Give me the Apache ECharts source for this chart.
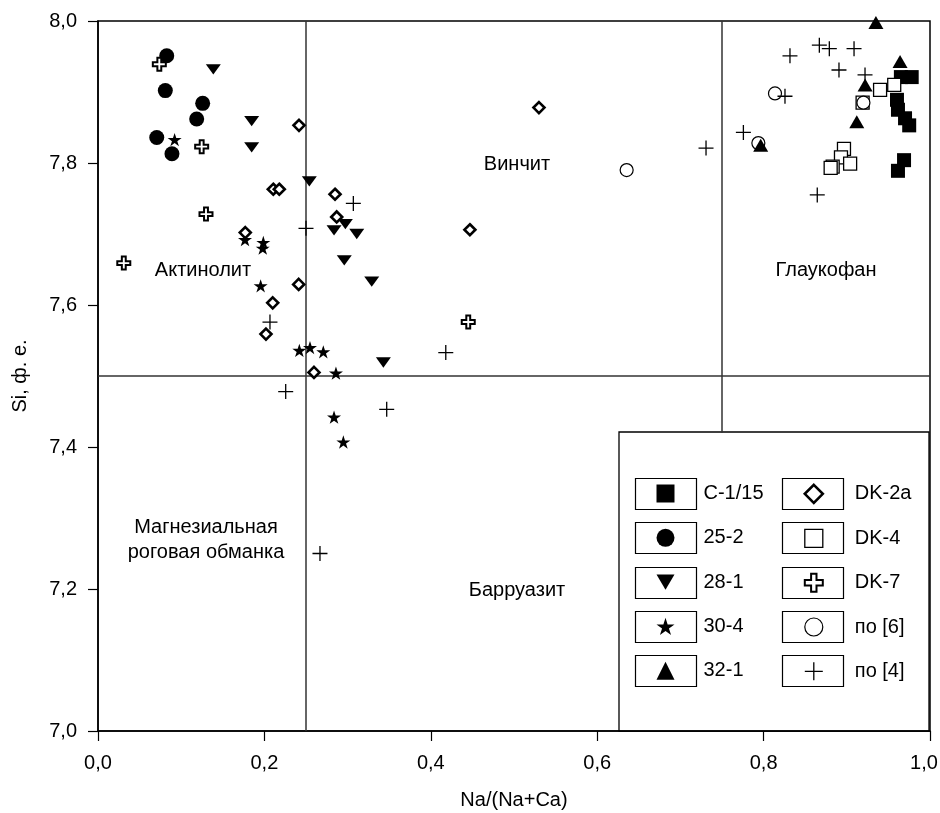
<!DOCTYPE html>
<html><head><meta charset="utf-8">
<script src="https://cdn.jsdelivr.net/npm/echarts@6/dist/echarts.min.js"></script>
<style>html,body{margin:0;padding:0;background:#fff}#c{width:940px;height:813px}</style>
</head><body><div id="c"></div>
<script>
// ---------- data ----------
const xTickLabels = ['0,0','0,2','0,4','0,6','0,8','1,0'];
const yTickLabels = ['7,0','7,2','7,4','7,6','7,8','8,0'];
const seriesNames = ['C-1/15','25-2','28-1','30-4','32-1','DK-2a','DK-4','DK-7','по [6]','по [4]'];

const sC115 = [[0.965,7.921],[0.978,7.921],[0.9603,7.889],[0.9615,7.875],[0.970,7.863],[0.975,7.853],[0.9688,7.804],[0.9615,7.789]];
const s252  = [[0.0826,7.951],[0.0809,7.902],[0.1258,7.884],[0.1186,7.862],[0.0706,7.836],[0.0889,7.813]];
const s281  = [[0.1386,7.932],[0.1847,7.859],[0.1847,7.822],[0.254,7.774],[0.2837,7.705],[0.2973,7.714],[0.311,7.700],[0.296,7.663],[0.329,7.633],[0.343,7.519]];
const s304  = [[0.0921,7.833],[0.1767,7.692],[0.1987,7.688],[0.198,7.680],[0.1955,7.627],[0.242,7.536],[0.2548,7.540],[0.2708,7.534],[0.286,7.504],[0.2837,7.442],[0.2949,7.407]];
const s321  = [[0.935,7.998],[0.964,7.943],[0.922,7.910],[0.912,7.858],[0.7965,7.825]];
const sDK2a = [[0.2416,7.853],[0.2107,7.763],[0.2179,7.763],[0.2849,7.756],[0.2869,7.724],[0.177,7.702],[0.2412,7.629],[0.21,7.603],[0.2019,7.559],[0.2596,7.505],[0.530,7.878],[0.447,7.706]];
const sDK4  = [[0.94,7.903],[0.957,7.910],[0.919,7.885],[0.8966,7.820],[0.893,7.808],[0.904,7.799],[0.883,7.795],[0.8806,7.793]];
const sDK7  = [[0.0737,7.939],[0.1246,7.823],[0.1298,7.728],[0.031,7.659],[0.445,7.576]];
const sPo6  = [[0.8137,7.898],[0.7937,7.828],[0.92,7.885],[0.6354,7.790]];
const sPo4  = [[0.8317,7.951],[0.867,7.966],[0.879,7.961],[0.9087,7.961],[0.8906,7.931],[0.9219,7.924],[0.8257,7.894],[0.7757,7.843],[0.8645,7.755],[0.7308,7.821],[0.418,7.533],[0.3069,7.743],[0.25,7.708],[0.2067,7.576],[0.2256,7.478],[0.347,7.453],[0.2668,7.250]];

// field boundaries
const bndV1 = [[0.25,7.0],[0.25,8.0]];
const bndV2 = [[0.75,7.42],[0.75,8.0]];
const bndH  = [[0.0,7.5],[1.0,7.5]];

// region labels
const regionLabels = ['Винчит','Актинолит','Глаукофан','Магнезиальная\nроговая обманка','Барруазит'];

// ---------- styling ----------
const FONT = 'Liberation Sans, Arial, sans-serif';
const STAR = 'path://M50,0L61.23,34.55L97.55,34.55L68.16,55.9L79.39,90.45L50,69.1L20.61,90.45L31.84,55.9L2.45,34.55L38.77,34.55Z';
const TRI_DOWN = 'path://M0,0L14,0L7,12Z';
const CROSS_O = 'path://M35,0L65,0L65,35L100,35L100,65L65,65L65,100L35,100L35,65L0,65L0,35L35,35Z';
const PLUS = 'path://M0,50L100,50M50,0L50,100';

const styles = {
  'C-1/15': {symbol:'rect', size:14, legendIcon:'rect', item:{color:'#000'}},
  '25-2':   {symbol:'circle', size:15, legendIcon:'circle', item:{color:'#000'}},
  '28-1':   {symbol:TRI_DOWN, size:[15,12], legendIcon:TRI_DOWN, item:{color:'#000'}},
  '30-4':   {symbol:STAR, size:14, legendIcon:STAR, item:{color:'#000'}},
  '32-1':   {symbol:'triangle', size:[15,13], legendIcon:'triangle', item:{color:'#000'}, z:6},
  'DK-2a':  {symbol:'diamond', size:11, legendIcon:'diamond', item:{color:'#fff', borderColor:'#000', borderWidth:2.6}},
  'DK-4':   {symbol:'rect', size:13, legendIcon:'rect', item:{color:'#fff', borderColor:'#000', borderWidth:1.3}},
  'DK-7':   {symbol:CROSS_O, size:13, legendIcon:CROSS_O, item:{color:'#fff', borderColor:'#000', borderWidth:2}},
  'по [6]': {symbol:'circle', size:13, legendIcon:'circle', item:{color:'#fff', borderColor:'#000', borderWidth:1.2}},
  'по [4]': {symbol:PLUS, size:15, legendIcon:PLUS, item:{color:'rgba(0,0,0,0)', borderColor:'#000', borderWidth:1.3}}
};
const seriesData = {'C-1/15':sC115,'25-2':s252,'28-1':s281,'30-4':s304,'32-1':s321,'DK-2a':sDK2a,'DK-4':sDK4,'DK-7':sDK7,'по [6]':sPo6,'по [4]':sPo4};

const scatterSeries = seriesNames.map(n => ({
  name: n, type: 'scatter', data: seriesData[n],
  symbol: styles[n].symbol, symbolSize: styles[n].size, symbolKeepAspect: true,
  itemStyle: Object.assign({opacity:1}, styles[n].item),
  z: styles[n].z || 3,
  emphasis: {disabled: true}
}));

const lineStyle = {color:'#333', width:1.5};
const boundarySeries = [bndV1, bndV2, bndH].map(d => ({
  type:'line', data:d, symbol:'none', silent:true, z:1,
  lineStyle: lineStyle, animation:false
}));

// ---------- legend layout ----------
const rowTop = 493.5, rowStep = 44.3, boxW = 61, boxH = 31;
const colBoxLeft = [635, 782];
const ICON = 18, ITEM_H = 20;
function legendData(names){
  return names.map(n => ({name:n, icon: styles[n].legendIcon, itemStyle: Object.assign({}, styles[n].item)}));
}
const legends = [0,1].map(c => ({
  orient:'vertical', selectedMode:false, padding:0,
  left: colBoxLeft[c] + (boxW-ICON)/2, top: rowTop - ITEM_H/2,
  itemWidth: ICON, itemHeight: ICON, itemGap: rowStep - ITEM_H,
  symbolKeepAspect: true,
  textStyle:{fontFamily:FONT, fontSize:20, color:'#000', lineHeight:ICON,
    padding:[0,0,0, c===0 ? 24 : 27]},
  data: legendData(seriesNames.slice(c*5, c*5+5))
}));

const graphics = [
  {type:'rect', shape:{x:619, y:432, width:310, height:299}, style:{fill:'#fff', stroke:'#000', lineWidth:1.3}, z:0}
];
for (let c=0;c<2;c++) for (let r=0;r<5;r++){
  graphics.push({type:'rect', shape:{x:colBoxLeft[c]+0.5, y:Math.round(rowTop + r*rowStep - boxH/2)+0.5, width:boxW, height:boxH},
    style:{fill:'none', stroke:'#000', lineWidth:1.2}, z:10});
}
const labelPos = [[517,164],[203,270],[826,270],[206,540],[517,590]];
regionLabels.forEach((t,i) => graphics.push({
  type:'text', x:labelPos[i][0], y:labelPos[i][1], z:10,
  style:{text:t, font:'20px ' + FONT, fill:'#000', align:'center', verticalAlign:'middle', lineHeight:25}
}));

const chart = echarts.init(document.getElementById('c'), null, {renderer:'canvas'});
chart.setOption({
  animation:false,
  backgroundColor:'#fff',
  grid:{left:98, right:10, top:21, bottom:82, show:true, borderColor:'#000', borderWidth:1.5,
    backgroundColor:'transparent', containLabel:false, outerBoundsMode:'none'},
  xAxis:{type:'value', min:0, max:1, interval:0.2,
    name:'Na/(Na+Ca)', nameLocation:'middle', nameGap:59,
    nameTextStyle:{fontFamily:FONT, fontSize:20, color:'#000'},
    axisLine:{lineStyle:{color:'#000', width:1.5}},
    axisTick:{length:10, lineStyle:{color:'#000', width:1.2}},
    splitLine:{show:false},
    axisLabel:{margin:22, fontFamily:FONT, fontSize:20, color:'#000',
      formatter: v => { const i = Math.round(v/0.2); return i === xTickLabels.length-1 ? '{m|' + xTickLabels[i] + '}' : xTickLabels[i]; },
      rich:{m:{fontFamily:FONT, fontSize:20, color:'#000', padding:[0,12,0,0]}}}
  },
  yAxis:{type:'value', min:7, max:8, interval:0.2,
    name:'Si, ф. е.', nameLocation:'middle', nameGap:68,
    nameTextStyle:{fontFamily:FONT, fontSize:20, color:'#000'},
    axisLine:{lineStyle:{color:'#000', width:1.5}},
    axisTick:{length:10, lineStyle:{color:'#000', width:1.2}},
    splitLine:{show:false},
    axisLabel:{margin:21, fontFamily:FONT, fontSize:20, color:'#000',
      formatter: v => yTickLabels[Math.round((v-7)/0.2)]}
  },
  legend: legends,
  graphic: graphics,
  series: boundarySeries.concat(scatterSeries)
});
</script></body></html>
